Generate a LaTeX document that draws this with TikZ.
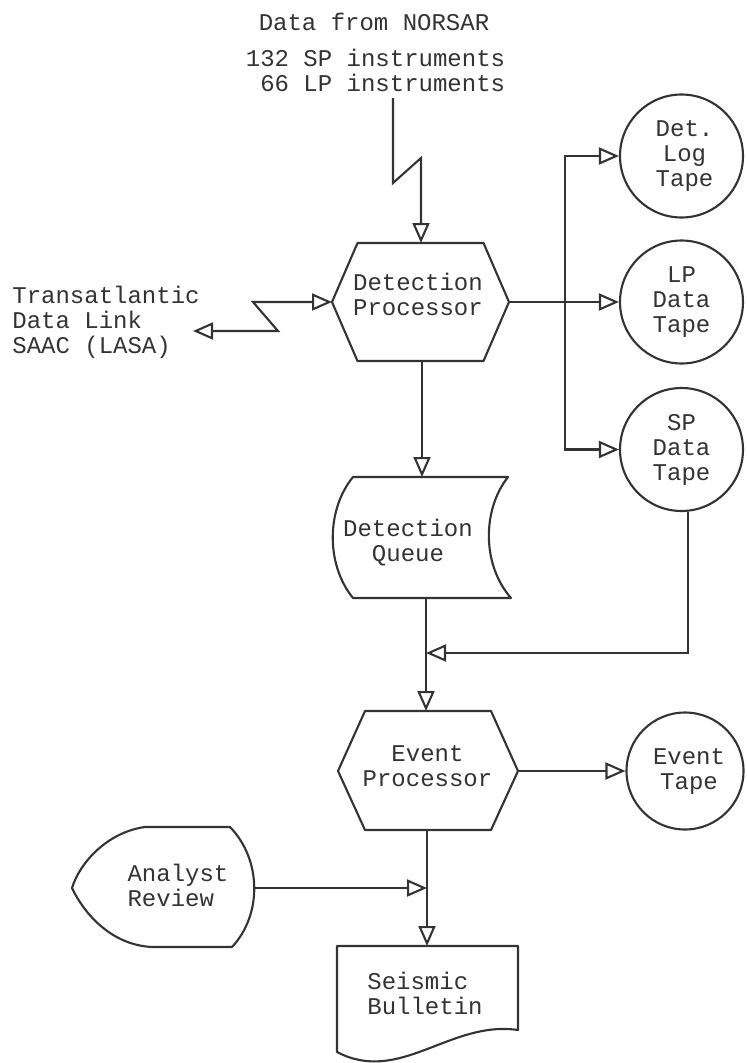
\documentclass[tikz,border=0pt]{standalone}
\usepackage{fontspec}
\setmonofont{Liberation Mono}
\usetikzlibrary{arrows.meta}
\definecolor{ink}{HTML}{333333}
\begin{document}
\begin{tikzpicture}[x=1pt,y=-1pt,
  >={Triangle[open,length=20pt,width=17pt]},
  every node/.style={font=\ttfamily\fontsize{24}{25}\selectfont, text=ink, inner sep=0pt},
  conn/.style={draw=ink, line width=2.1pt, ->},
  biconn/.style={draw=ink, line width=2.1pt, <->},
  shp/.style={draw=ink, line width=2.1pt, line join=round},
  tape/.style={circle, draw=ink, line width=2.1pt, minimum size=123pt, align=center},
  lbl/.style={align=center}]
\useasboundingbox[fill=white] (0,0) rectangle (747,1063);

% ---- text labels
\node[lbl] (norsar) at (374,22) {Data from NORSAR};
\node[align=right] (instr) at (375.5,70) {132 SP instruments\\66 LP instruments};
\node[align=left] (tal) at (106,322) {Transatlantic\\Data Link\\SAAC (LASA)};

% ---- Detection Processor
\draw[shp] (332,302) -- (357.5,243) -- (483.5,243) -- (509,302) -- (483.5,361) -- (357.5,361) -- cycle;
\node[lbl] (dp) at (418,294) {Detection\\Processor};
\coordinate (dpN) at (421,243);
\coordinate (dpS) at (422,361);
\coordinate (dpW) at (332,302);
\coordinate (dpE) at (509,302);

% ---- Detection Queue
\draw[shp] (353,477) -- (508,477) .. controls (482,510) and (482,565) .. (511,598) -- (353,598) .. controls (326,565) and (326,510) .. (353,477) -- cycle;
\node[lbl] (dq) at (408,542.5) {Detection\\Queue};
\coordinate (dqN) at (422,477);
\coordinate (dqS) at (426,598);

% ---- Event Processor
\draw[shp] (338,771) -- (365,711) -- (491,711) -- (518,771) -- (491,830) -- (365,830) -- cycle;
\node[lbl] (ep) at (427.5,766.5) {Event\\Processor};
\coordinate (epN) at (426,711);
\coordinate (epS) at (427,830);
\coordinate (epE) at (518,771);

% ---- Analyst Review
\draw[shp] (145,827) -- (230,827) .. controls (262,860) and (262,915) .. (232,947) -- (152,947) .. controls (112,945) and (85,915) .. (72,888) .. controls (80,862) and (108,832) .. (145,827) -- cycle;
\node[align=left] (ar) at (178,885) {Analyst\\Review};
\coordinate (arE) at (254,888);

% ---- Seismic Bulletin
\draw[shp] (337,946) -- (518,946) -- (518,1030) .. controls (450,1020) and (400,1085) .. (337,1052) -- cycle;
\node[align=left] (sb) at (425,993.5) {Seismic\\Bulletin};
\coordinate (sbN) at (427,946);

% ---- tapes
\node[tape] (dlt) at (681.5,156) {\hspace*{6pt}Det.\\\hspace*{6pt}Log\\\hspace*{6pt}Tape};
\node[tape] (lpt) at (681.5,302) {LP\\Data\\Tape};
\node[tape] (spt) at (681.5,449.5) {SP\\Data\\Tape};
\node[tape, minimum size=117pt] (evt) at (685,771) {\hspace*{8pt}Event\\\hspace*{8pt}Tape};

% ---- connectors
\coordinate (src) at (393,98);
\draw[conn] (src) -- (393,183) -- (421,158) -- (dpN);
\coordinate (tlA) at (193,331);
\draw[biconn] (tlA) -- (278,331) -- (253,302) -- (dpW);
\draw[conn] (dpE) -- (lpt.west);
\coordinate (br) at (565,302);
\draw[conn] (br) |- (dlt.west);
\draw[conn] (br) |- (spt.west);
\draw[conn] (dpS) -- (dqN);
\coordinate (fb) at (426,653);
\draw[conn] (dqS) -- (epN);
\draw[conn] (spt.-84) |- (fb);
\draw[conn] (epE) -- (evt.west);
\coordinate (am) at (427,888);
\draw[conn] (epS) -- (sbN);
\draw[conn] (arE) -- (am);
\end{tikzpicture}
\end{document}
